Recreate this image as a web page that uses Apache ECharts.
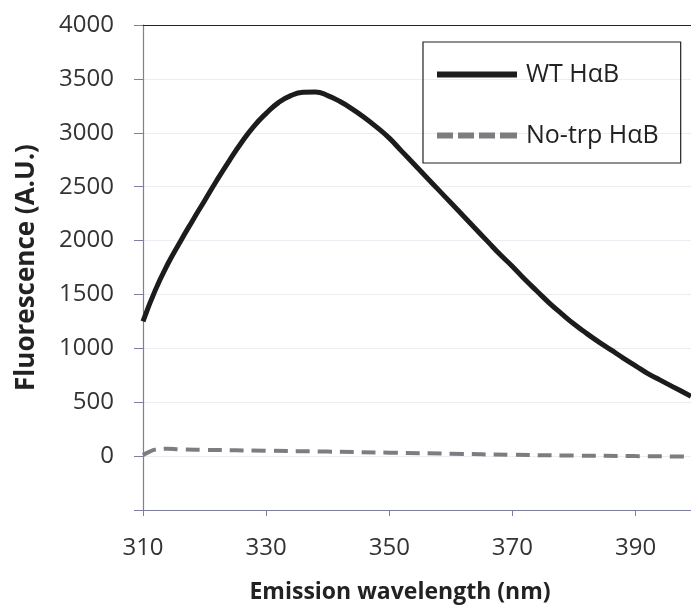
<!DOCTYPE html>
<html>
<head>
<meta charset="utf-8">
<script src="https://cdn.jsdelivr.net/npm/echarts@6/dist/echarts.min.js"></script>
<style>html,body{margin:0;padding:0;background:#fff;}#c{width:691px;height:611px;}</style>
</head>
<body>
<div id="c"></div>
<script>
var wtWavelength = [310,312,314,316,318,320,322,324,326,328,330,332,334,336,338,340,342,344,346,348,350,352,354,356,358,360,362,364,366,368,370,372,374,376,378,380,382,384,386,388,390,392,394,396,398,399];
var wtValues = [1250,1540,1780,1985,2180,2370,2560,2740,2910,3060,3180,3280,3345,3375,3378,3345,3290,3220,3140,3050,2950,2830,2710,2590,2470,2350,2230,2110,1990,1870,1760,1640,1530,1420,1320,1225,1140,1060,985,910,838,765,705,645,585,555];
var noTrpWavelength = [310,311,312,314,316,320,330,340,350,360,370,380,390,399];
var noTrpValues = [10,40,60,68,62,58,50,42,32,22,12,5,0,-5];
var xTicks = [310,330,350,370,390];
var seriesNames = ['WT H\u03b1B','No-trp H\u03b1B'];

function pairs(xs, ys){ return xs.map(function(x,i){ return [x, ys[i]]; }); }

var font = '"Open Sans", "Noto Sans", sans-serif';
var axisCol = '#7c7fa0';
var chart = echarts.init(document.getElementById('c'), null, {renderer:'canvas'});
chart.setOption({
  animation:false,
  backgroundColor:'#fff',
  grid:{left:143, top:25, right:0, bottom:101},
  legend:{
    orient:'vertical', left:423, top:42,
    padding:[20,22,15,14],
    borderColor:'#222', borderWidth:1.2,
    itemWidth:84, itemHeight:6, itemGap:36,
    textStyle:{fontFamily:font, fontSize:25, color:'#222', lineHeight:20, padding:[0,0,0,2]},
    data:[
      {name:seriesNames[0], icon:'path://M0,0h80v6h-80z'},
      {name:seriesNames[1], icon:'path://M0,0h16v6h-16z M21,0h16v6h-16z M42,0h16v6h-16z M63,0h17v6h-17z'}
    ]
  },
  xAxis:[{
    type:'value', min:310, max:399, interval:20,
    name:'Emission wavelength (nm)', nameLocation:'middle', nameGap:71,
    nameTextStyle:{fontFamily:font, fontSize:23, fontWeight:'bold', color:'#222', padding:[0,34,0,0]},
    axisLine:{show:true, onZero:false, lineStyle:{color:axisCol, width:1.2}},
    axisTick:{show:true, length:6, lineStyle:{color:axisCol}},
    axisLabel:{fontFamily:font, fontSize:24, color:'#333', margin:26, showMaxLabel:false,
      formatter:function(v){ return xTicks.indexOf(v) >= 0 ? String(v) : ''; }},
    splitLine:{show:false}
  },{
    type:'value', position:'top', min:310, max:399,
    axisLine:{show:true, onZero:false, lineStyle:{color:'#222', width:1.2}},
    axisTick:{show:false}, axisLabel:{show:false}, splitLine:{show:false}
  }],
  yAxis:{
    type:'value', min:-500, max:4000, interval:500,
    name:'Fluorescence (A.U.)', nameLocation:'middle', nameGap:103,
    nameTextStyle:{fontFamily:font, fontSize:26, fontWeight:'bold', color:'#222'},
    axisLine:{show:true, onZero:false, lineStyle:{color:axisCol, width:1.2}},
    axisTick:{show:true, length:9, lineStyle:{color:axisCol}},
    axisLabel:{fontFamily:font, fontSize:24, color:'#333', margin:29,
      formatter:function(v){ return v < 0 ? '' : String(v); }},
    splitLine:{show:true, lineStyle:{color:'#ececf2', width:1}}
  },
  series:[{
    name:seriesNames[0], type:'line', smooth:true, symbol:'none',
    data:pairs(wtWavelength, wtValues),
    lineStyle:{color:'#1c1c1c', width:5}, itemStyle:{color:'#1c1c1c'}
  },{
    name:seriesNames[1], type:'line', smooth:true, symbol:'none',
    data:pairs(noTrpWavelength, noTrpValues),
    lineStyle:{color:'#7d7d80', width:4, type:[14,8]}, itemStyle:{color:'#7d7d80'}
  }]
});
</script>
</body>
</html>
